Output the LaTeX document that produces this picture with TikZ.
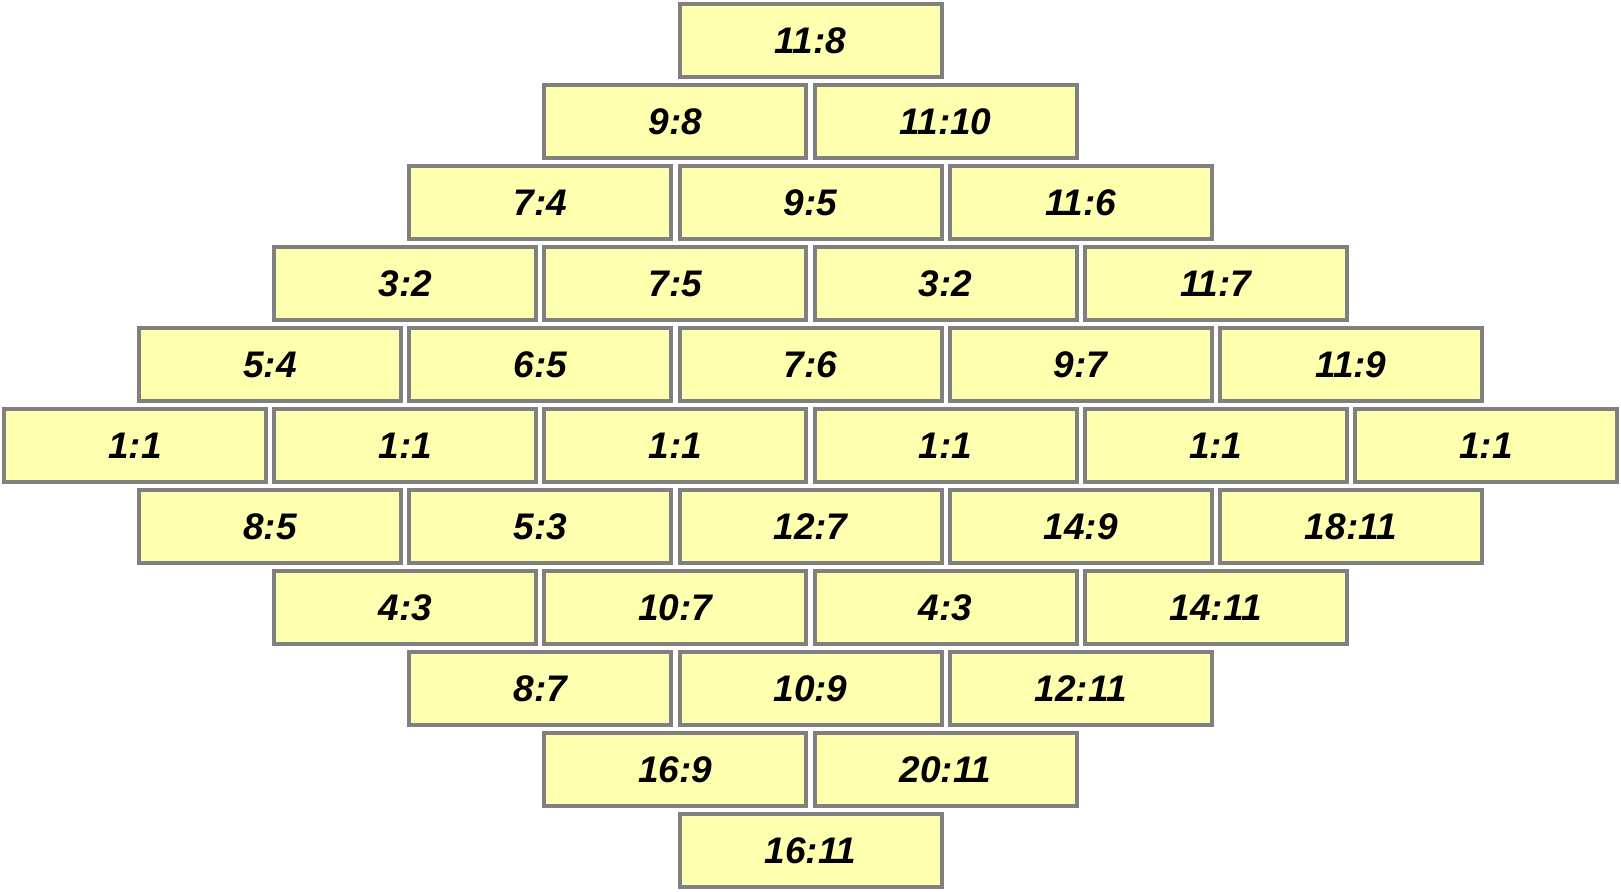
\documentclass[tikz,border=0pt]{standalone}
\usepackage{fontspec}
\setmainfont{Liberation Sans}
\begin{document}
\begin{tikzpicture}[x=1pt,y=1pt,
  cell/.style={draw=black!50, fill={rgb,255:red,255;green,255;blue,176}, line width=4pt,
    minimum width=262pt, minimum height=73pt, inner sep=0pt,
    font=\fontsize{37}{40}\selectfont\bfseries\itshape}]
\useasboundingbox (0,0) rectangle (1621,891);
\def\px{270.17}
\foreach \row/\labels [count=\k from 0] in {
  0/{11:8},
  1/{9:8,11:10},
  2/{7:4,9:5,11:6},
  3/{3:2,7:5,3:2,11:7},
  4/{5:4,6:5,7:6,9:7,11:9},
  5/{1:1,1:1,1:1,1:1,1:1,1:1},
  6/{8:5,5:3,12:7,14:9,18:11},
  7/{4:3,10:7,4:3,14:11},
  8/{8:7,10:9,12:11},
  9/{16:9,20:11},
  10/{16:11}} {
  \pgfmathtruncatemacro{\n}{6-abs(\k-5)}
  \foreach \lab [count=\i from 0] in \labels {
    \pgfmathsetmacro{\cx}{810.5+(\i-(\n-1)/2)*\px}
    \pgfmathsetmacro{\cy}{891-(\k+0.5)*81}
    \node[cell] (c\k-\i) at (\cx,\cy) {\lab};
  }
}
\end{tikzpicture}
\end{document}
